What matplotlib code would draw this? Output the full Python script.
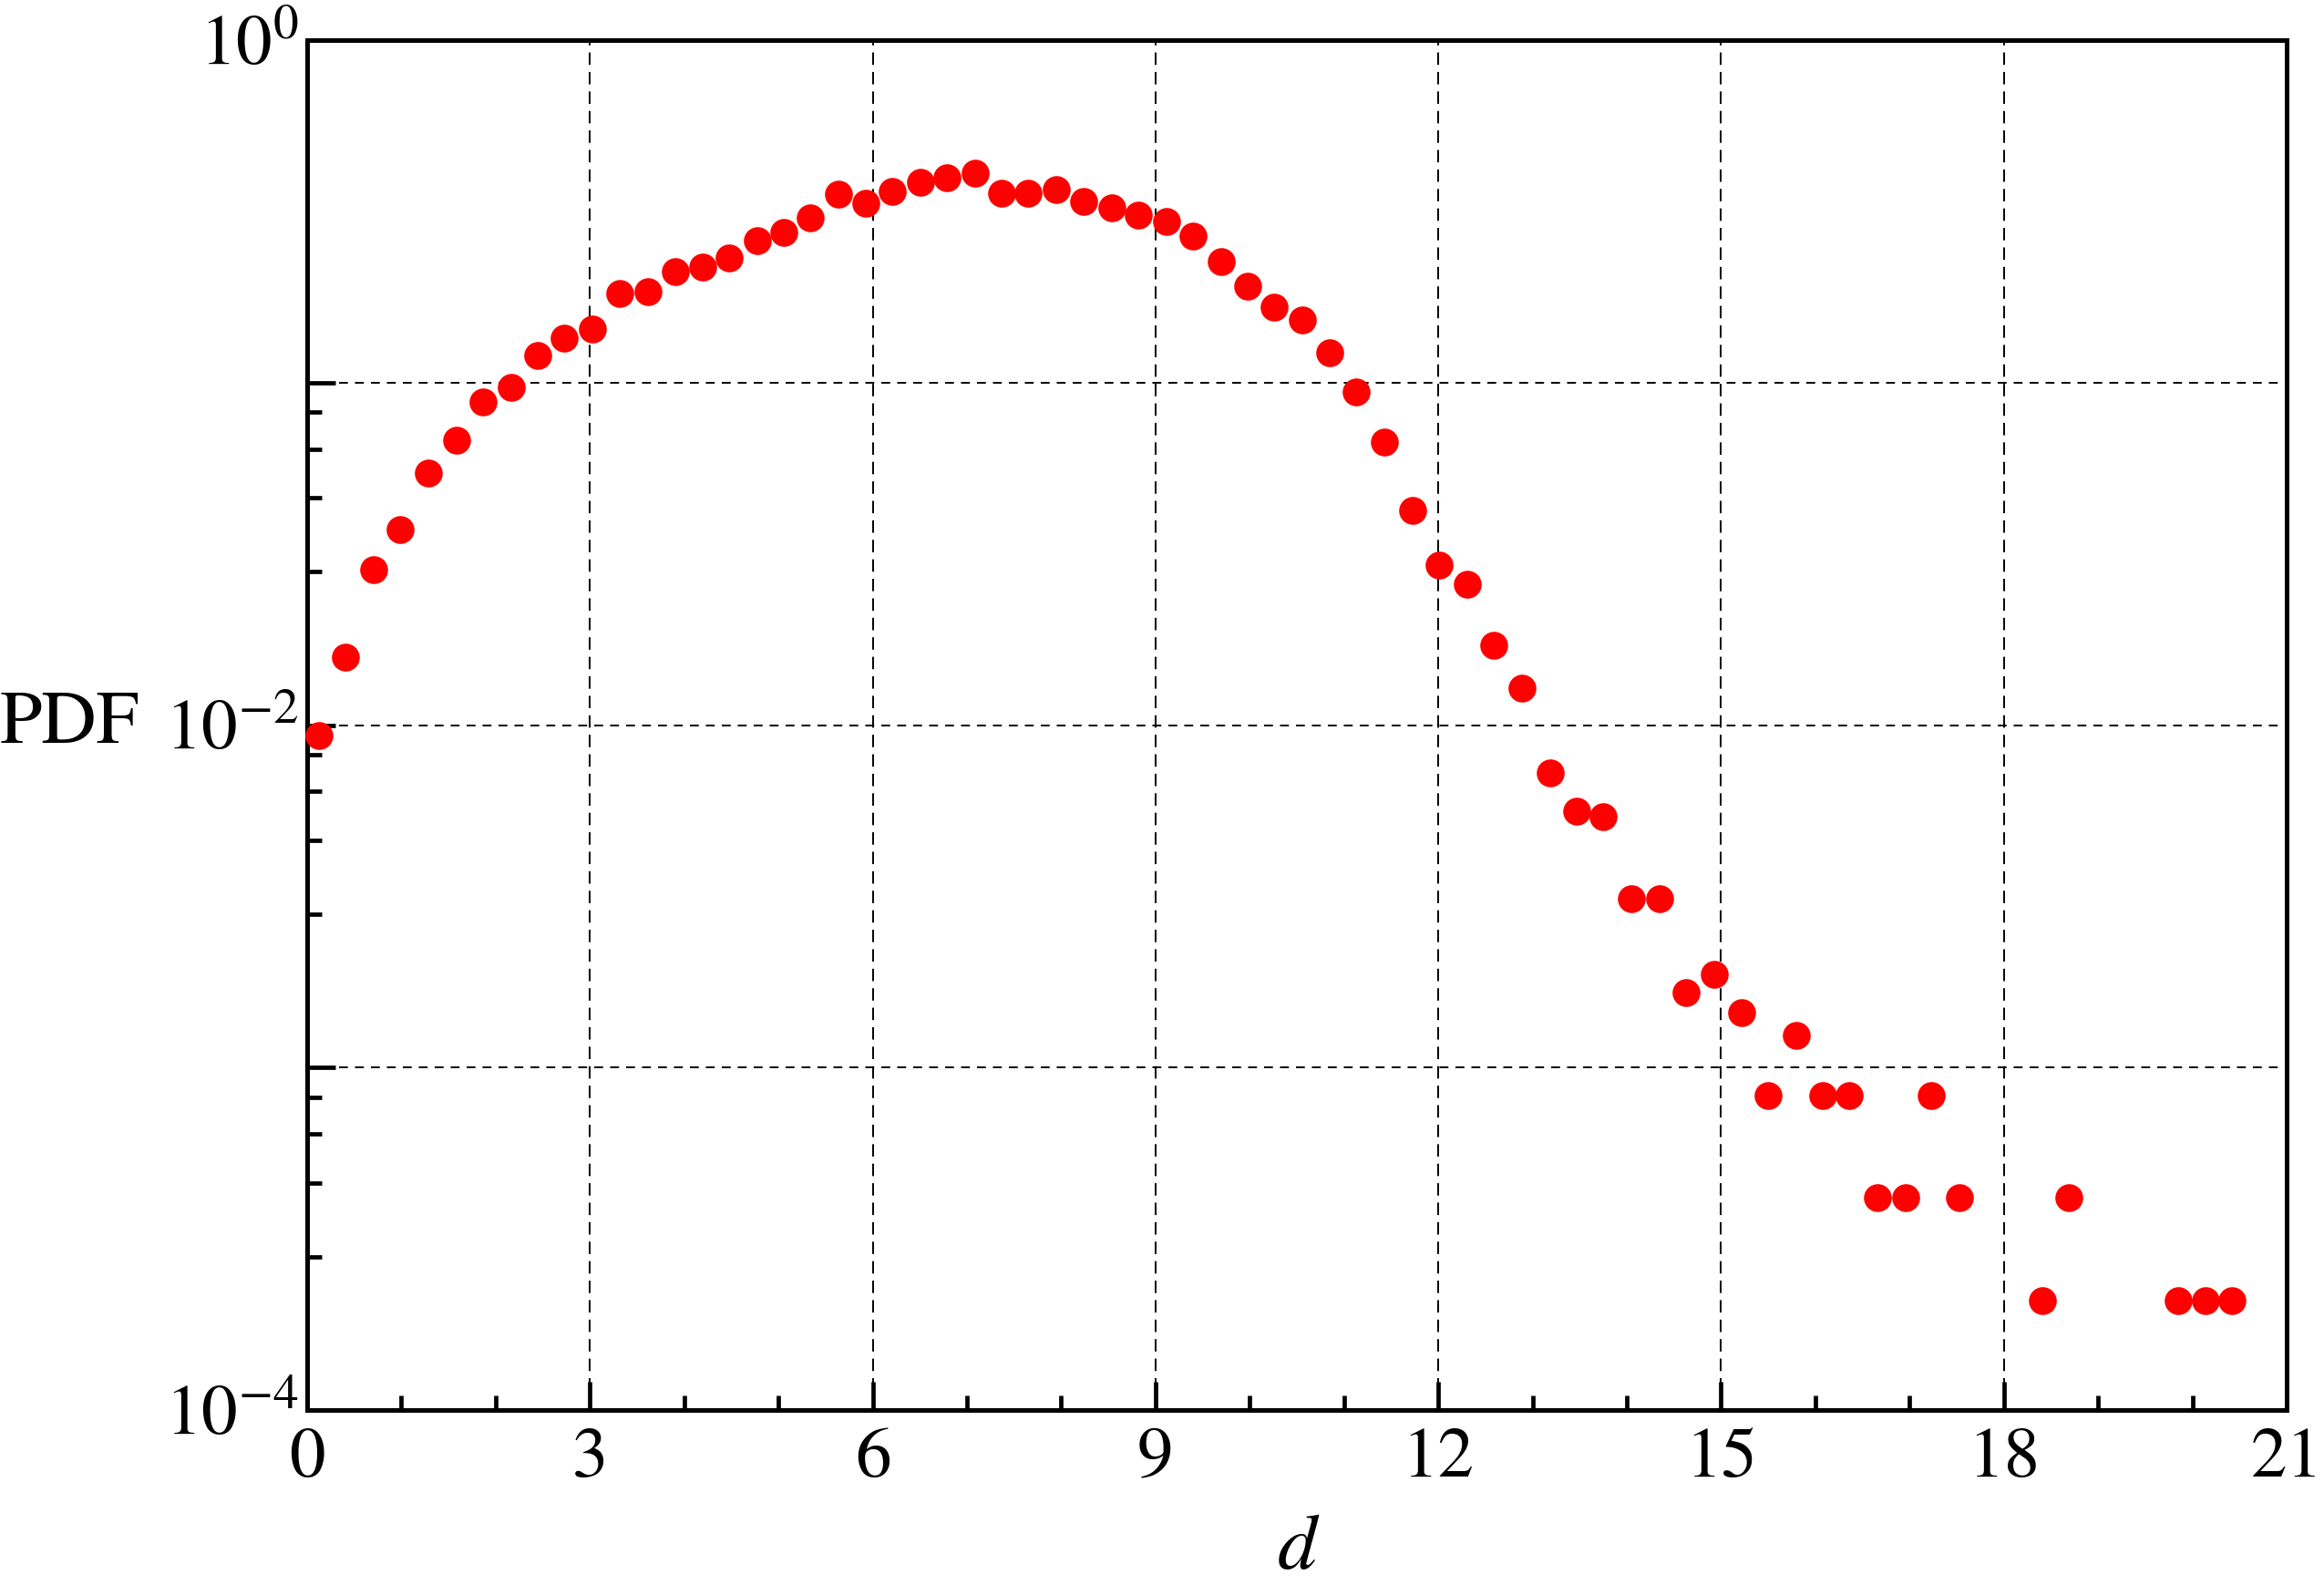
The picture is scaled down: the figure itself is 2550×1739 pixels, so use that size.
import numpy as np
import matplotlib
matplotlib.use("Agg")
import matplotlib.pyplot as plt
from matplotlib.ticker import FixedLocator, FixedFormatter

# =========================================================
# DATA
# =========================================================

d_values = [
    0.13, 0.41, 0.71, 0.99, 1.29, 1.59, 1.87, 2.17, 2.45, 2.73,
    3.03, 3.32, 3.62, 3.91, 4.20, 4.48, 4.78, 5.06, 5.34, 5.64,
    5.93, 6.21, 6.51, 6.79, 7.09, 7.37, 7.65, 7.95, 8.24, 8.54,
    8.82, 9.12, 9.40, 9.70, 9.98, 10.26, 10.56, 10.85, 11.13, 11.43,
    11.73, 12.01, 12.31, 12.59, 12.89, 13.19, 13.47, 13.75, 14.05, 14.35,
    14.63, 14.93, 15.22, 15.50, 15.80, 16.08, 16.36, 16.66, 16.96, 17.23,
    17.53, 18.41, 18.69, 19.85, 20.14, 20.42,
]

pdf_values = [
    0.0093, 0.0158, 0.0285, 0.0373, 0.0544, 0.0678, 0.0879, 0.097, 0.1197, 0.135,
    0.143, 0.182, 0.184, 0.211, 0.218, 0.231, 0.260, 0.274, 0.303, 0.355,
    0.334, 0.362, 0.384, 0.396, 0.408, 0.358, 0.358, 0.365, 0.337, 0.324,
    0.308, 0.296, 0.268, 0.226, 0.191, 0.166, 0.152, 0.122, 0.094, 0.067,
    0.0424, 0.0294, 0.0258, 0.0171, 0.0128, 0.00727, 0.00561, 0.00539, 0.00312, 0.00312,
    0.00166, 0.00187, 0.00145, 0.000827, 0.00124, 0.000827, 0.000827, 0.000416, 0.000416, 0.000827,
    0.000416, 0.000209, 0.000416, 0.000209, 0.000209, 0.000209,
]

x_major = [0, 3, 6, 9, 12, 15, 18, 21]
x_minor = [1, 2, 4, 5, 7, 8, 10, 11, 13, 14, 16, 17, 19, 20]
y_major = [1e-4, 1e-3, 1e-2, 1e-1, 1e0]
y_major_labels = [r"$10^{-4}$", "", r"$10^{-2}$", "", r"$10^{0}$"]
y_minor_steps = [0.28, 0.46, 0.64, 0.82]

# =========================================================
# STYLE
# =========================================================

plt.rcParams["font.family"] = ["STIXGeneral", "DejaVu Sans"]
plt.rcParams["mathtext.fontset"] = "stix"

fig = plt.figure(figsize=(25.5, 17.39), dpi=100)
ax = fig.add_axes([337 / 2550, 1 - 1547 / 1739, 2172 / 2550, 1503 / 1739])

ax.plot(d_values, pdf_values, "o", color="red", markersize=22,
        markeredgewidth=0, zorder=3, clip_on=False)

ax.set_yscale("log")
ax.set_xlim(0, 21)
ax.set_ylim(1e-4, 1e0)

y_minor = [k * s for k in y_major[:-1] for s in y_minor_steps]

ax.xaxis.set_major_locator(FixedLocator(x_major))
ax.xaxis.set_minor_locator(FixedLocator(x_minor))
ax.yaxis.set_major_locator(FixedLocator(y_major))
ax.yaxis.set_major_formatter(FixedFormatter(y_major_labels))
ax.yaxis.set_minor_locator(FixedLocator(y_minor))
ax.yaxis.set_minor_formatter(FixedFormatter([""] * len(y_minor)))

ax.tick_params(which="both", direction="in", top=False, right=False,
               width=3.4, labelsize=57)
ax.tick_params(which="major", length=22)
ax.tick_params(which="minor", length=11.5)
ax.tick_params(axis="x", which="major", pad=14)
ax.tick_params(axis="y", which="major", pad=7)

for spine in ax.spines.values():
    spine.set_linewidth(3.6)

ax.grid(True, which="major", axis="x", color="black", linewidth=1.4,
        linestyle=(0, (7, 4)))
ax.grid(True, which="major", axis="y", color="black", linewidth=1.4,
        linestyle=(0, (5, 4)))

ax.set_xlabel("d", fontsize=62, fontstyle="italic", va="center")
ax.xaxis.set_label_coords(0.5, -0.102)
ax.set_ylabel("PDF", fontsize=60, rotation=0, ha="left", va="center")
ax.yaxis.set_label_coords(-337 / 2172, 0.5)

fig.savefig("out.png", dpi=100)
